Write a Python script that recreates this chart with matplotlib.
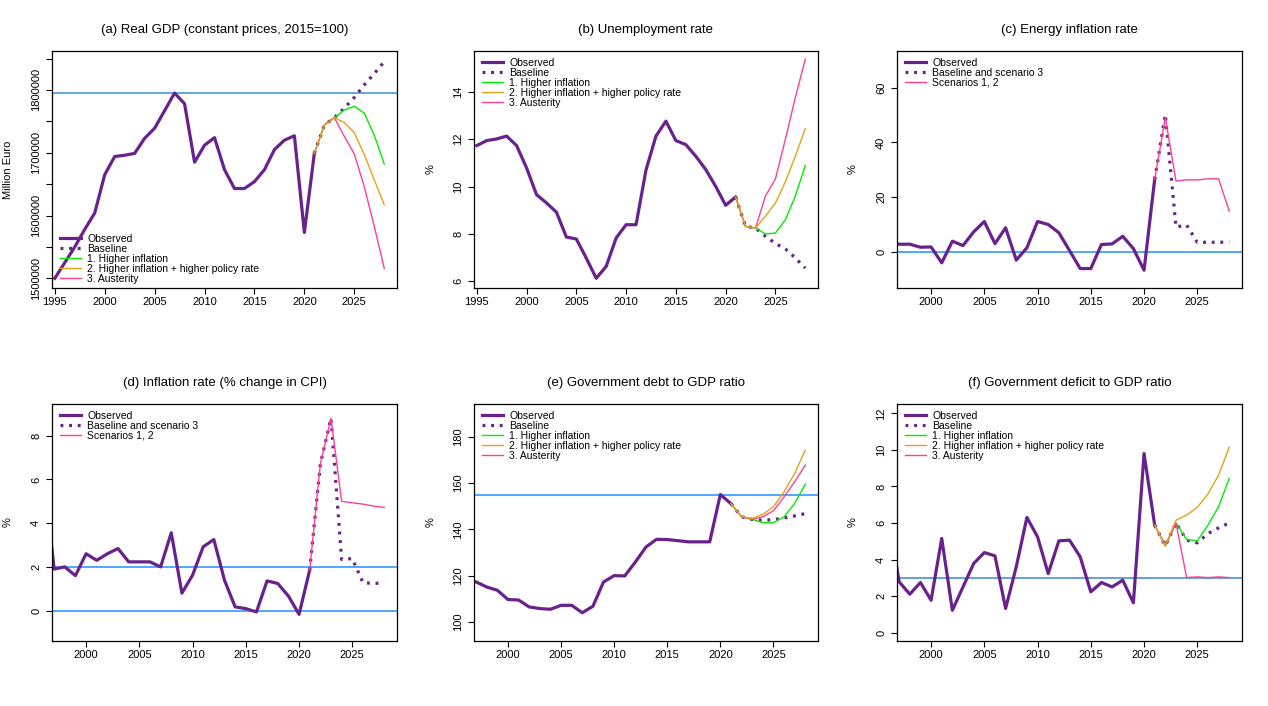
import numpy as np
import matplotlib
matplotlib.use("Agg")
import matplotlib.pyplot as plt
from matplotlib.ticker import FixedLocator, FuncFormatter

#%% ------------------------------ Données ------------------------------ #

years_a = np.arange(1995, 2022)      # observé, panneaux (a) et (b)
years_c = np.arange(1996, 2022)      # observé, panneaux (c) à (f)
years_s = np.arange(2021, 2029)      # projections

# (a) PIB réel
gdp_obs = [1500000, 1525000, 1550000, 1578000, 1604000, 1665000, 1694000, 1696000, 1699000,
           1723000, 1739000, 1767000, 1795000, 1778000, 1685000, 1712000, 1724000, 1673000,
           1643000, 1643000, 1654000, 1673000, 1705000, 1720000, 1727000, 1573000, 1699000]
gdp_base = [1699000, 1744000, 1756000, 1771000, 1788000, 1808000, 1826000, 1845000]
gdp_s1 = [1699000, 1744000, 1756000, 1768000, 1774000, 1763000, 1728000, 1682000]
gdp_s2 = [1699000, 1744000, 1756000, 1748000, 1732000, 1697000, 1657000, 1617000]
gdp_s3 = [1699000, 1744000, 1756000, 1726000, 1698000, 1646000, 1583000, 1516000]
gdp_ref = [1795000]

# (b) chômage
unemp_obs = [11.73, 11.94, 12.01, 12.13, 11.73, 10.79, 9.66, 9.31, 8.92, 7.87, 7.79, 6.98, 6.13,
             6.63, 7.83, 8.39, 8.39, 10.7, 12.13, 12.76, 11.94, 11.77, 11.28, 10.72, 10.01, 9.21, 9.56]
unemp_base = [9.56, 8.32, 8.25, 7.9, 7.6, 7.37, 6.99, 6.56]
unemp_s1 = [9.56, 8.32, 8.25, 8.0, 8.04, 8.6, 9.6, 10.89]
unemp_s2 = [9.56, 8.32, 8.25, 8.75, 9.3, 10.2, 11.28, 12.44]
unemp_s3 = [9.56, 8.32, 8.25, 9.6, 10.32, 11.99, 13.75, 15.37]

# (c) inflation énergie
energy_obs = [2.9, 2.8, 2.8, 1.7, 1.8, -4.0, 3.9, 2.3, 7.3, 11.1, 3.0, 8.8, -3.0, 1.5, 11.1, 10.0,
              7.0, 0.5, -6.1, -6.1, 2.7, 2.9, 5.7, 1.2, -6.7, 26.5]
energy_base = [26.5, 50.2, 9.1, 9.8, 3.5, 3.5, 3.5, 3.6]
energy_s12 = [26.5, 49.0, 25.9, 26.3, 26.3, 26.7, 26.7, 14.9]
energy_ref = [0]

# (d) inflation IPC
cpi_obs = [6.5, 1.9, 2.0, 1.6, 2.6, 2.3, 2.6, 2.84, 2.23, 2.23, 2.23, 2.0, 3.56, 0.8, 1.62, 2.92,
           3.25, 1.39, 0.17, 0.09, -0.06, 1.36, 1.24, 0.67, -0.17, 1.85]
cpi_base = [1.85, 6.7, 8.8, 2.34, 2.38, 1.28, 1.24, 1.27]
cpi_s12 = [1.85, 6.7, 8.8, 5.0, 4.93, 4.87, 4.78, 4.72]
cpi_ref = [0, 2]

# (e) dette / PIB
debt_obs = [118.0, 117.3, 115.1, 113.7, 109.7, 109.5, 106.5, 105.8, 105.5, 107.2, 107.2, 104.0,
            106.8, 117.3, 120.0, 119.9, 125.9, 132.4, 135.7, 135.6, 135.1, 134.6, 134.6, 134.6,
            155.0, 151.1]
debt_base = [151.1, 145.4, 144.3, 143.9, 144.2, 144.9, 145.8, 146.8]
debt_s1 = [151.1, 145.4, 144.3, 142.9, 142.9, 145.4, 151.2, 159.5]
debt_s2 = [151.1, 145.4, 144.7, 146.5, 149.7, 156.2, 164.1, 174.2]
debt_s3 = [151.1, 145.4, 144.3, 145.4, 148.0, 154.0, 160.5, 167.7]
debt_ref = [155]

# (f) déficit / PIB
def_obs = [6.4, 2.78, 2.1, 2.74, 1.77, 5.15, 1.22, 2.5, 3.78, 4.38, 4.2, 1.32, 3.6, 6.3, 5.24,
           3.23, 5.02, 5.06, 4.15, 2.23, 2.74, 2.5, 2.87, 1.63, 9.8, 5.88]
def_base = [5.88, 4.75, 6.0, 5.06, 4.91, 5.42, 5.73, 6.0]
def_s1 = [5.88, 4.75, 6.0, 5.1, 5.02, 5.88, 6.89, 8.44]
def_s2 = [5.88, 4.75, 6.15, 6.43, 6.85, 7.58, 8.62, 10.14]
def_s3 = [5.88, 4.75, 6.0, 3.01, 3.05, 3.01, 3.05, 3.01]
def_ref = [3]

#%% ------------------------------ Style ------------------------------ #

plt.rcParams['font.family'] = ['Liberation Sans', 'DejaVu Sans']

PURPLE = "#68228B"
GREEN = "#00EE00"
ORANGE = "#E3A21A"
PINK = "#FF3E96"
BLUE = "#1E90FF"
DOTS = (0, (0.9, 1.8))

W, H = 1268, 706
fig = plt.figure(figsize=(W / 100, H / 100), dpi=100)

lefts = [52, 474, 897]
widths = [345, 344, 345]
tops = [51, 404]
height = 237


def make_ax(row, col):
    x0 = lefts[col]
    y0 = tops[row] + height
    return fig.add_axes([x0 / W, (H - y0) / H, widths[col] / W, height / H])


def panel(ax, title, x_obs, obs, base, scen, labels, ylim, xlim, yticks, xticks,
          refs=(), ref_col=BLUE, ylabel="%", legloc="upper left"):
    for r in refs:
        ax.axhline(r, color=ref_col, lw=1.1, zorder=1)
    ax.plot(x_obs, obs, color=PURPLE, lw=2.3, zorder=2, label=labels[0])
    ax.plot(years_s, base, color=PURPLE, lw=2.3, ls=DOTS, zorder=3, label=labels[1])
    # l'ordre de tracé : vert, rose puis orange par-dessus
    handles = {}
    for key, vals, col in scen:
        handles[key] = ax.plot(years_s, vals, color=col, lw=1.0, zorder=4)[0]
    h, l = ax.get_legend_handles_labels()
    for key, vals, col in sorted(scen, key=lambda s: s[0]):
        h.append(handles[key])
    l = list(labels)
    ax.set_xlim(*xlim)
    ax.set_ylim(*ylim)
    ax.set_title(title, fontsize=9.5, pad=13)
    ax.set_ylabel(ylabel, fontsize=8, va='center')
    ax.yaxis.set_label_coords(-44 / 345, 0.5)
    ax.set_xticks(xticks)
    ax.yaxis.set_major_locator(FixedLocator(yticks))
    ax.tick_params(axis='both', labelsize=8, length=4.3, width=0.8, direction='out')
    ax.tick_params(axis='x', pad=2)
    ax.tick_params(axis='y', pad=3.5)
    for lab in ax.get_yticklabels():
        lab.set_rotation(90)
        lab.set_va('center')
    for s in ax.spines.values():
        s.set_linewidth(0.9)
    if legloc == "upper left":
        leg = ax.legend(h, l, loc="upper left", bbox_to_anchor=(0.012, 0.99), frameon=False,
                        fontsize=7.5, labelspacing=0.0, handlelength=2.0, handletextpad=0.6,
                        borderaxespad=0.2, borderpad=0.2)
    else:
        leg = ax.legend(h, l, loc="lower left", bbox_to_anchor=(0.012, 0.0), frameon=False,
                        fontsize=7.5, labelspacing=0.0, handlelength=2.0, handletextpad=0.6,
                        borderaxespad=0.2, borderpad=0.2)
    return leg


lab5 = ["Observed", "Baseline", "1. Higher inflation",
        "2. Higher inflation + higher policy rate", "3. Austerity"]
lab3 = ["Observed", "Baseline and scenario 3", "Scenarios 1, 2"]

xl_ab = (1994.72, 2029.28)
xl_cf = (1996.8, 2029.2)
xt_ab = [1995, 2000, 2005, 2010, 2015, 2020, 2025]
xt_cf = [2000, 2005, 2010, 2015, 2020, 2025]

#%% ------------------------------ Panneaux ------------------------------ #

ax = make_ax(0, 0)
panel(ax, "(a) Real GDP (constant prices, 2015=100)", years_a, gdp_obs, gdp_base,
      [(1, gdp_s1, GREEN), (3, gdp_s3, PINK), (2, gdp_s2, ORANGE)], lab5,
      (1484600, 1862000), xl_ab, np.arange(1500000, 1860001, 50000), xt_ab,
      refs=gdp_ref, ref_col="#3A8DDA", ylabel="Million Euro", legloc="lower left")
ax.yaxis.set_major_formatter(FuncFormatter(lambda v, p: "%d" % v if int(v) % 100000 == 0 else ""))

ax = make_ax(0, 1)
panel(ax, "(b) Unemployment rate", years_a, unemp_obs, unemp_base,
      [(1, unemp_s1, GREEN), (3, unemp_s3, PINK), (2, unemp_s2, ORANGE)], lab5,
      (5.72, 15.72), xl_ab, [6, 8, 10, 12, 14], xt_ab)

ax = make_ax(0, 2)
panel(ax, "(c) Energy inflation rate", years_c, energy_obs, energy_base,
      [(1, energy_s12, PINK)], lab3,
      (-13.2, 73.4), xl_cf, [0, 20, 40, 60], xt_cf, refs=energy_ref)

ax = make_ax(1, 0)
panel(ax, "(d) Inflation rate (% change in CPI)", years_c, cpi_obs, cpi_base,
      [(1, cpi_s12, PINK)], lab3,
      (-1.39, 9.45), xl_cf, [0, 2, 4, 6, 8], xt_cf, refs=cpi_ref)

ax = make_ax(1, 1)
panel(ax, "(e) Government debt to GDP ratio", years_c, debt_obs, debt_base,
      [(1, debt_s1, GREEN), (3, debt_s3, PINK), (2, debt_s2, ORANGE)], lab5,
      (91.8, 194.1), xl_cf, [100, 120, 140, 160, 180], xt_cf, refs=debt_ref)

ax = make_ax(1, 2)
panel(ax, "(f) Government deficit to GDP ratio", years_c, def_obs, def_base,
      [(1, def_s1, GREEN), (3, def_s3, PINK), (2, def_s2, ORANGE)], lab5,
      (-0.46, 12.51), xl_cf, [0, 2, 4, 6, 8, 10, 12], xt_cf, refs=def_ref, ref_col="#3C88C8")

fig.savefig("out.png", dpi=100)
